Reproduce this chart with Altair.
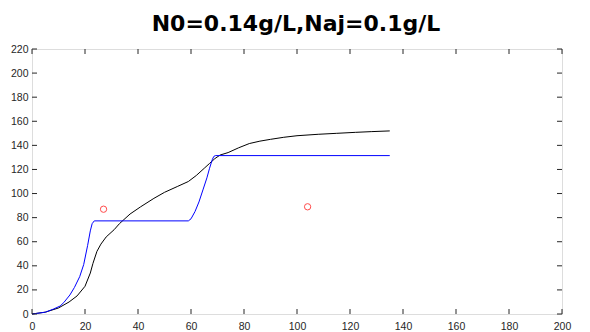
import altair as alt
import pandas as pd

title_text = "N0=0.14g/L,Naj=0.1g/L"

black_x = [0, 5, 10, 14, 17, 20, 22, 23, 24.5, 26, 28, 31, 33, 37, 41, 46, 50, 55, 59, 62, 65, 67, 69, 71, 74, 78, 82, 86, 90, 95, 100, 108, 115, 122, 128, 135]
black_y = [0, 1.5, 5, 10, 15, 23, 34, 42, 52, 58, 64, 70, 75, 83, 89, 96, 101, 106, 110, 115, 121, 125, 129, 132, 134, 138, 141.5, 143.5, 145, 146.7, 148, 149.2, 150, 150.8, 151.4, 152]

blue_x = [0, 5, 8, 10.6, 12, 14.3, 16, 18, 19.5, 21, 22, 22.7, 23.5, 59, 60, 61.5, 63, 64.5, 66, 67, 68, 68.6, 69.2, 135]
blue_y = [0, 1.5, 4, 6.6, 9.5, 15.8, 22, 31, 41, 57, 69, 75, 77.3, 77.3, 79, 85, 93, 103, 113, 121, 128, 130.8, 131.5, 131.5]

red_x = [27, 104]
red_y = [87, 89]

x_ticks = list(range(0, 201, 20))
y_ticks = list(range(0, 221, 20))

W, H = 530, 265
AX = "#262626"
FONT = "Liberation Sans"

xs = alt.Scale(domain=[0, 200], nice=False, zero=False)
ys = alt.Scale(domain=[0, 220], nice=False, zero=False)

xaxis = alt.Axis(values=x_ticks, ticks=False, tickSize=0, domain=False, grid=False,
                 labelFont=FONT, labelFontSize=10.5, labelColor=AX, labelPadding=7,
                 title=None, labelFlush=False, labelOverlap=False)
yaxis = alt.Axis(values=y_ticks, ticks=False, tickSize=0, domain=False, grid=False,
                 labelFont=FONT, labelFontSize=10.5, labelColor=AX, labelPadding=4,
                 title=None, labelOverlap=False, labelFlush=False)


def X(f):
    return alt.X(f, type="quantitative", scale=xs, axis=xaxis)


def Y(f):
    return alt.Y(f, type="quantitative", scale=ys, axis=yaxis)


df_b = pd.DataFrame({"x": black_x, "y": black_y})
df_bl = pd.DataFrame({"x": blue_x, "y": blue_y})
df_r = pd.DataFrame({"x": red_x, "y": red_y})
df_xt = pd.DataFrame({"v": x_ticks})
df_yt = pd.DataFrame({"v": y_ticks})
df_t = pd.DataFrame({"t": [title_text]})

black = alt.Chart(df_b).mark_line(color="#000000", strokeWidth=1).encode(x=X("x"), y=Y("y"))
blue = alt.Chart(df_bl).mark_line(color="#0000FF", strokeWidth=1).encode(x=X("x"), y=Y("y"))
red = alt.Chart(df_r).mark_point(shape="circle", filled=False, color="#FF0000", size=40,
                                 strokeWidth=1).encode(x=X("x"), y=Y("y"))

tb = alt.Chart(df_xt).mark_rule(color=AX, strokeWidth=1).encode(
    x=X("v"), y=alt.value(H), y2=alt.value(H - 5))
tt = alt.Chart(df_xt).mark_rule(color=AX, strokeWidth=1).encode(
    x=X("v"), y=alt.value(0), y2=alt.value(5))
tl = alt.Chart(df_yt).mark_rule(color=AX, strokeWidth=1).encode(
    y=Y("v"), x=alt.value(0), x2=alt.value(5))
tr = alt.Chart(df_yt).mark_rule(color=AX, strokeWidth=1).encode(
    y=Y("v"), x=alt.value(W), x2=alt.value(W - 5))

title = alt.Chart(df_t).mark_text(font="DejaVu Sans", fontSize=22, fontWeight="bold",
                                  color="#000000", align="center", baseline="alphabetic").encode(
    x=alt.value(W / 2 - 1), y=alt.value(-18), text="t:N")

chart = alt.layer(black, blue, red, tb, tt, tl, tr, title).properties(
    width=W, height=H,
    autosize=alt.AutoSizeParams(type="none"),
    padding={"left": 24, "top": 41, "right": 20, "bottom": 20},
).configure_view(stroke=AX, strokeWidth=1).configure(background="white")

chart.save("out.html", embed_options={"renderer": "svg", "actions": False})
